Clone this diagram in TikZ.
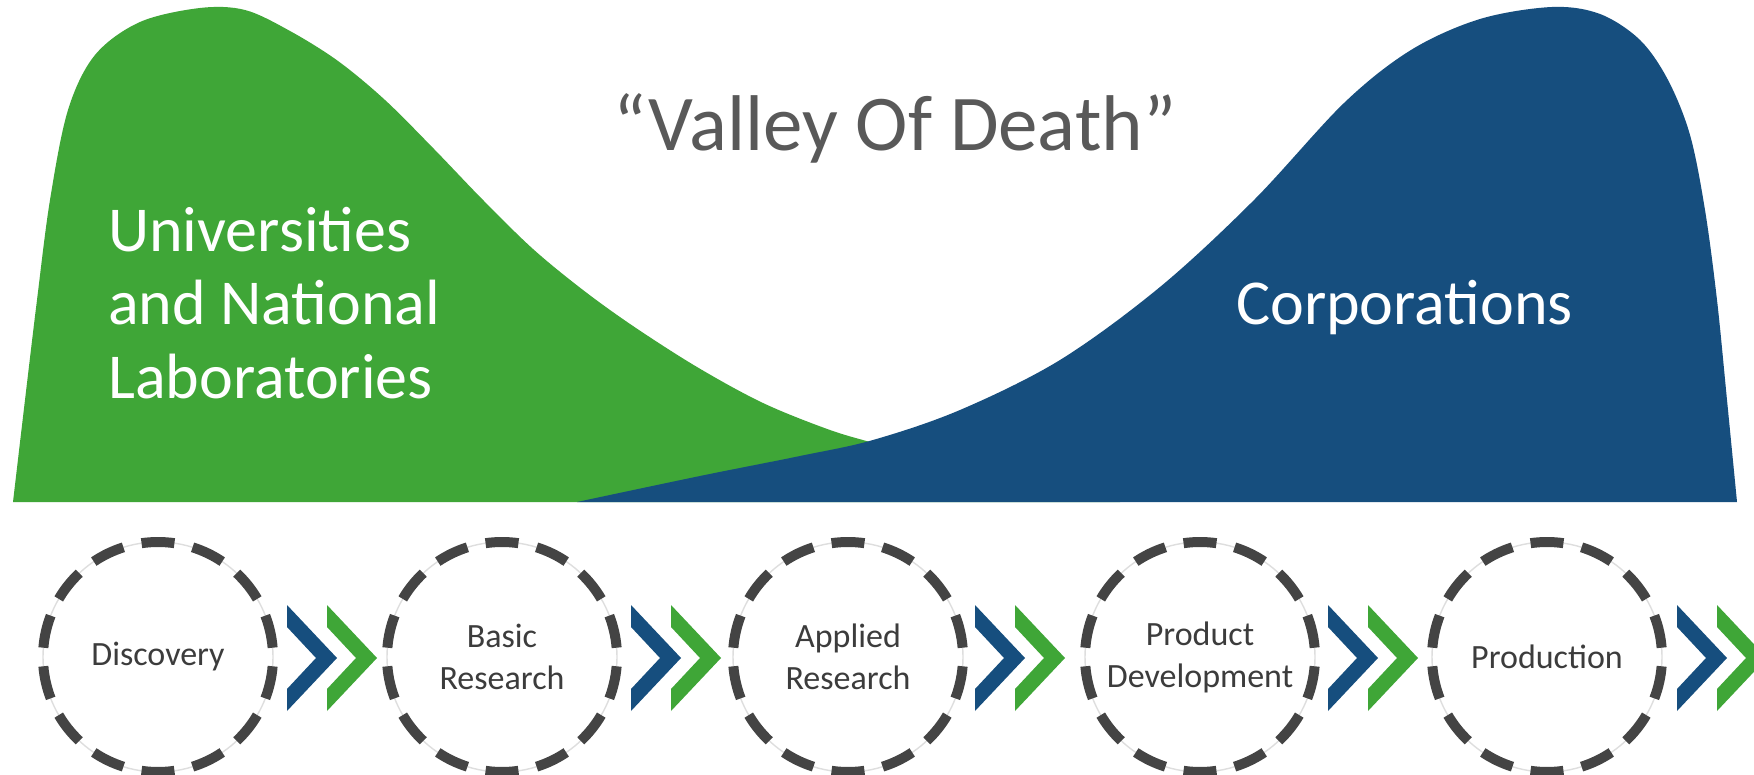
\documentclass[tikz,border=0pt]{standalone}
\usepackage{fontspec}
\setmainfont{Carlito}
\definecolor{uniGreen}{RGB}{63,166,55}
\definecolor{corpBlue}{RGB}{22,78,126}
\definecolor{dashGray}{RGB}{68,68,68}
\definecolor{labelGray}{RGB}{60,60,60}
\definecolor{titleGray}{RGB}{89,89,89}

\begin{document}
\begin{tikzpicture}[x=1pt,y=-1pt,
  stage/.style={circle, minimum size=230pt, inner sep=0pt,
    draw=black!13, line width=1.4pt,
    align=center, text=labelGray,
    font=\fontsize{34}{42}\selectfont},
  ringdash/.style={draw=dashGray, line width=10pt},
  biglabel/.style={anchor=base west, inner sep=0pt, text=white,
    font=\fontsize{64}{74}\selectfont},
  chevron/.pic={\path[pic actions] (0,0) -- (50,53) -- (0,106) -- (0,84)
    -- (29,53) -- (0,22) -- cycle;},
  bluechev/.style={fill=corpBlue},
  greenchev/.style={fill=uniGreen}]

\clip (0,0) rectangle (1754,775);
\fill[white] (0,0) rectangle (1754,775);

% left hump: universities and national laboratories
\fill[uniGreen] plot[smooth, tension=0.55] coordinates {
  (13,502) (25,400) (37,300) (50,200) (68,110) (95,55) (140,22)
  (200,8) (245,10) (290,31) (338,61) (385,100) (434,149) (483,200)
  (533,249) (583,290) (633,326) (697,367) (763,403) (830,430)
  (880,445) (960,470) (1050,492) (1120,502)} -- cycle;

% right hump: corporations
\fill[corpBlue] plot[smooth, tension=0.55] coordinates {
  (577,502) (700,476) (800,456) (873,440) (960,410) (1060,360)
  (1160,287) (1254,200) (1344,103) (1411,50) (1480,19) (1552,7)
  (1600,14) (1640,40) (1668,80) (1690,135) (1705,210) (1717,300)
  (1727,400) (1737,502)} -- cycle;

\node[anchor=base, inner sep=0pt, text=titleGray,
  font=\fontsize{79}{90}\selectfont] (valley) at (895,151)
  {\char"201CValley Of Death\char"201D};

\node[biglabel] (uni1) at (108,252) {Universities};
\node[biglabel] (uni2) at (108,325) {and National};
\node[biglabel] (uni3) at (108,399) {Laboratories};
\node[biglabel] (corp) at (1236,325) {Corporations};

% stages of the pipeline
\node[stage] (discovery) at (158,657) {Discovery};
\node[stage] (basic) at (502,657) {Basic\\Research};
\node[stage] (applied) at (848,657) {Applied\\Research};
\node[stage] (product) at (1200,657) {Product\\Development};
\node[stage] (production) at (1547,657) {Production};

% fourteen thick dashes around every stage ring
\foreach \n in {discovery,basic,applied,product,production}{
  \begin{scope}[shift={(\n.center)}]
    \foreach \k in {0,...,13}{
      \pgfmathsetmacro{\s}{4.637+25.714*\k}
      \draw[ringdash] (\s:115) arc[start angle=\s, delta angle=16.44, radius=115];
    }
  \end{scope}
}

% double chevrons between the stages
\foreach \cx in {287,631,975,1328,1677}{
  \pic[bluechev] at (\cx,605) {chevron};
  \pic[greenchev] at (\cx+40,605) {chevron};
}
\end{tikzpicture}
\end{document}
